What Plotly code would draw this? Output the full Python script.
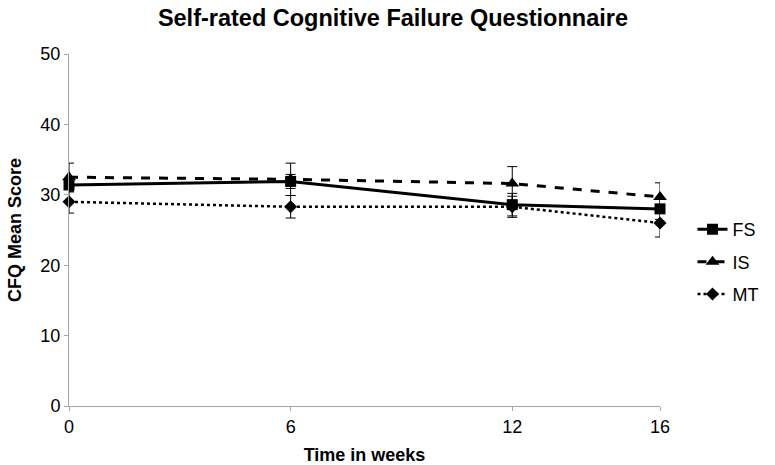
import plotly.graph_objects as go

weeks = [0, 6, 12, 16]
fs_mean = [31.4, 31.9, 28.6, 28.0]
fs_err = [1.0, 1.0, 1.6, 1.5]
is_mean = [32.5, 32.2, 31.6, 29.7]
is_err = [2.0, 2.3, 2.4, 2.0]
mt_mean = [29.0, 28.3, 28.3, 26.0]
mt_err = [1.6, 1.6, 1.5, 2.0]

series = [
    ("FS", fs_mean, fs_err, "solid", 3, "square", 11),
    ("IS", is_mean, is_err, "dash", 3, "triangle-up", 12),
    ("MT", mt_mean, mt_err, "dot", 2.5, "diamond", 10),
]

fig = go.Figure()
for name, y, e, dash, w, sym, ms in series:
    fig.add_trace(go.Scatter(
        x=weeks, y=y, name=name, mode="lines+markers", legendgroup=name,
        line=dict(color="black", width=w, dash=dash),
        marker=dict(symbol=sym, size=ms, color="black"),
        error_y=dict(type="data", array=e, visible=True, color="black",
                     thickness=1, width=5),
        cliponaxis=False,
    ))

font = "Liberation Sans, Arial, Helvetica, sans-serif"
fig.update_layout(
    width=775, height=465, autosize=False,
    paper_bgcolor="white", plot_bgcolor="white",
    margin=dict(l=69, r=105, t=54, b=59),
    font=dict(family=font, size=18, color="black"),
    title=dict(text="<b>Self-rated Cognitive Failure Questionnaire</b>",
               x=0.507, xanchor="center", y=0.962, yanchor="middle",
               font=dict(size=23.5, family=font)),
    legend=dict(x=1.055, y=0.409, xanchor="left", yanchor="middle",
                font=dict(size=18), tracegroupgap=6, itemwidth=30,
                traceorder="grouped", bgcolor="rgba(0,0,0,0)"),
    showlegend=True,
)
fig.update_xaxes(
    range=[0, 16], tickvals=weeks, ticktext=[str(v) for v in weeks],
    showgrid=False, zeroline=False, showline=True, linecolor="#a6a6a6",
    linewidth=1, ticks="outside", ticklen=4, tickcolor="#a6a6a6",
    automargin=False,
    title=dict(text="<b>Time in weeks</b>", font=dict(size=18), standoff=12),
)
fig.update_yaxes(
    range=[0, 50], tickvals=[0, 10, 20, 30, 40, 50],
    showgrid=False, zeroline=False, showline=True, linecolor="#a6a6a6",
    linewidth=1, ticks="outside", ticklen=4, tickcolor="#a6a6a6",
    automargin=False,
    title=dict(text="<b>CFQ Mean Score</b>", font=dict(size=18), standoff=14),
)
fig.write_html(
    "out.html",
    config={"responsive": False, "displayModeBar": False},
    post_script="document.body.style.margin='0';document.body.style.overflow='hidden';",
)
